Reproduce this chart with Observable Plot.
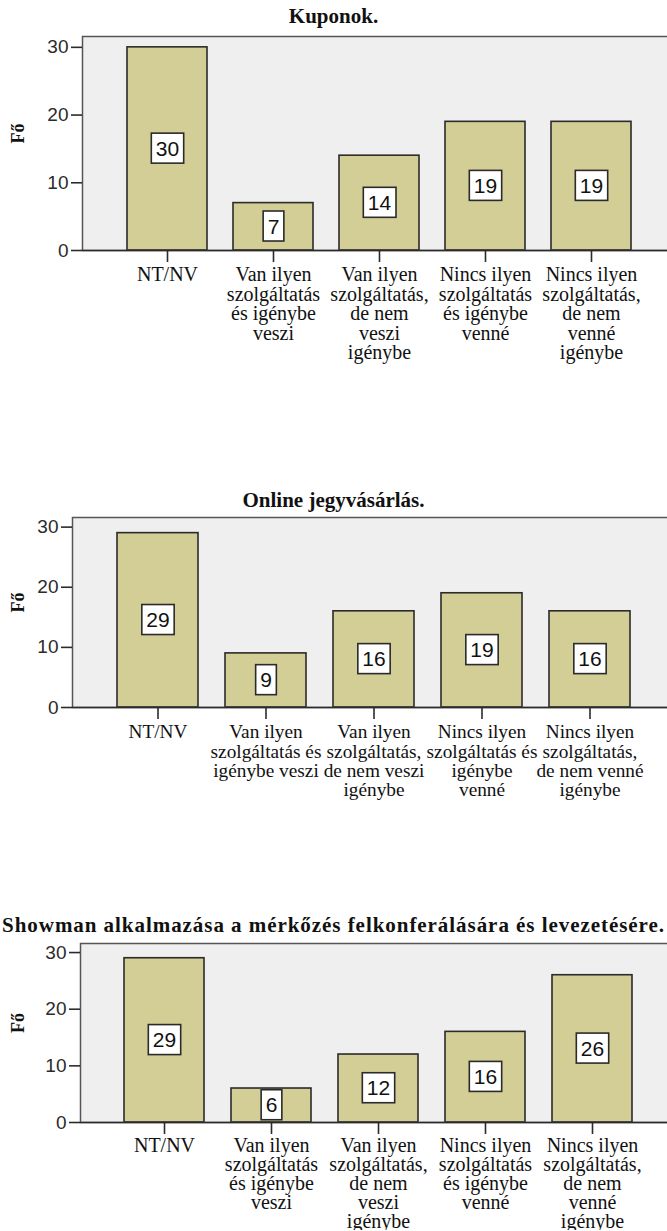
<!DOCTYPE html>
<html>
<head>
<meta charset="utf-8">
<script src="https://cdn.jsdelivr.net/npm/d3@7"></script>
<script src="https://cdn.jsdelivr.net/npm/@observablehq/plot@0.6"></script>
<style>
  body { margin: 0; background: #ffffff; }
  #root { position: relative; width: 667px; height: 1231px; overflow: hidden; background: #fff; }
  .title { position: absolute; left: 0; width: 667px; text-align: center; white-space: nowrap;
           font-family: "Liberation Serif", serif; font-weight: bold; font-size: 21px; line-height: 21px; color: #111; }
  .chart { position: absolute; left: 0; }
</style>
</head>
<body>
<div id="root"></div>
<script>
// ---- data ----
const categories = [
  "NT/NV",
  "Van ilyen szolgáltatás és igénybe veszi",
  "Van ilyen szolgáltatás, de nem veszi igénybe",
  "Nincs ilyen szolgáltatás és igénybe venné",
  "Nincs ilyen szolgáltatás, de nem venné igénybe"
];
const kuponok = [30, 7, 14, 19, 19];
const onlineJegy = [29, 9, 16, 19, 16];
const showman = [29, 6, 12, 16, 26];
const tickLabelsA = [
  "NT/NV",
  "Van ilyen\nszolgáltatás\nés igénybe\nveszi",
  "Van ilyen\nszolgáltatás,\nde nem\nveszi\nigénybe",
  "Nincs ilyen\nszolgáltatás\nés igénybe\nvenné",
  "Nincs ilyen\nszolgáltatás,\nde nem\nvenné\nigénybe"
];
const tickLabelsB = [
  "NT/NV",
  "Van ilyen\nszolgáltatás és\nigénybe veszi",
  "Van ilyen\nszolgáltatás,\nde nem veszi\nigénybe",
  "Nincs ilyen\nszolgáltatás és\nigénybe\nvenné",
  "Nincs ilyen\nszolgáltatás,\nde nem venné\nigénybe"
];
const yTicks = [0, 10, 20, 30];
const yLabel = "Fő";
const titles = [
  "Kuponok.",
  "Online jegyvásárlás.",
  "Showman alkalmazása a mérkőzés felkonferálására és levezetésére."
];

// ---- layout ----
const charts = [
  {title: titles[0], values: kuponok, labels: tickLabelsA, titleTop: 6, titleSpacing: 0, svgTop: 26, marginLeft: 82, plotH: 214, marginBottom: 140, xRange: [113, 644.5], labelSize: 20, labelLH: 0.975, labelDy: 17},
  {title: titles[1], values: onlineJegy, labels: tickLabelsB, titleTop: 489.5, titleSpacing: 0, svgTop: 507, marginLeft: 72, plotH: 190, marginBottom: 140, xRange: [101.75, 644.25], labelSize: 19.3, labelLH: 1.0, labelDy: 17},
  {title: titles[2], values: showman, labels: tickLabelsA, titleTop: 914.5, titleSpacing: 0.95, svgTop: 933, marginLeft: 80, plotH: 179, marginBottom: 108, xRange: [109.25, 646.75], labelSize: 20, labelLH: 0.95, labelDy: 16}
];

const root = document.getElementById("root");
const ink = "#2b2b2b";

for (const c of charts) {
  const t = document.createElement("div");
  t.className = "title";
  t.style.top = c.titleTop + "px";
  t.style.letterSpacing = c.titleSpacing + "px";
  t.textContent = c.title;
  root.appendChild(t);

  const data = categories.map((cat, i) => ({cat, value: c.values[i], label: c.labels[i]}));
  const marginTop = 10;
  const svg = Plot.plot({
    width: 667,
    height: marginTop + c.plotH + c.marginBottom,
    marginTop,
    marginLeft: c.marginLeft,
    marginRight: -30,
    marginBottom: c.marginBottom,
    style: {fontFamily: "Liberation Sans, sans-serif", fontSize: "19px", color: ink, background: "transparent"},
    x: {domain: categories, range: c.xRange, paddingInner: 0.25, paddingOuter: 0.125, axis: null},
    y: {domain: [0, 31.6], axis: null},
    marks: [
      Plot.frame({fill: "#efefef", stroke: "none"}),
      Plot.barY(data, {x: "cat", y: "value", fill: "#d3cd96", stroke: ink, strokeWidth: 1.6}),
      Plot.frame({stroke: "#555", strokeWidth: 1.5, fill: "none"}),
      Plot.ruleY([0], {stroke: ink, strokeWidth: 1.6}),
      Plot.axisY(yTicks, {anchor: "left", tickSize: 11, tickPadding: 3, fontSize: 19, stroke: ink, strokeWidth: 1.6, label: null, fill: ink}),
      Plot.axisX({anchor: "bottom", tickSize: 12, label: null, tickFormat: () => "", stroke: ink, strokeWidth: 1.6}),
      Plot.text(data, {x: "cat", frameAnchor: "bottom", lineAnchor: "top", dy: c.labelDy, text: "label",
        fontFamily: "Liberation Serif, serif", fontSize: c.labelSize, lineHeight: c.labelLH, fill: "#111"}),
      Plot.text(data, {x: "cat", y: d => d.value / 2, text: d => String(d.value),
        fontSize: 21, fontFamily: "Liberation Sans, sans-serif", fill: "#111"}),
      Plot.text([yLabel], {frameAnchor: "left", dx: 18 - c.marginLeft, rotate: -90, text: d => d,
        fontFamily: "Liberation Serif, serif", fontWeight: "bold", fontSize: 18, fill: "#111"})
    ]
  });
  const holder = document.createElement("div");
  holder.className = "chart";
  holder.style.top = c.svgTop + "px";
  holder.appendChild(svg);
  root.appendChild(holder);

  // white boxes behind the value labels (second plain text mark)
  const g = svg.querySelectorAll('g[aria-label="text"]')[1];
  if (g) {
    g.querySelectorAll("text").forEach(tx => {
      const b = tx.getBBox();
      const r = document.createElementNS("http://www.w3.org/2000/svg", "rect");
      const w = b.width + 9, h = 30;
      r.setAttribute("x", b.x + b.width / 2 - w / 2);
      r.setAttribute("y", b.y + b.height / 2 - h / 2);
      r.setAttribute("width", w);
      r.setAttribute("height", h);
      r.setAttribute("fill", "#ffffff");
      r.setAttribute("stroke", ink);
      r.setAttribute("stroke-width", 1.6);
      const tr = tx.getAttribute("transform");
      if (tr) r.setAttribute("transform", tr);
      tx.parentNode.insertBefore(r, tx);
    });
  }
}
</script>
</body>
</html>
